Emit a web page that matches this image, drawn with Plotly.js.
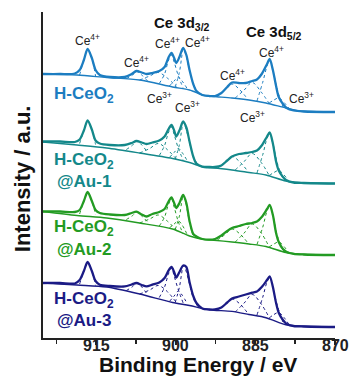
<!DOCTYPE html>
<html>
<head>
<meta charset="utf-8">
<script src="https://cdn.plot.ly/plotly-3.0.1.min.js"></script>
<style>html,body{margin:0;padding:0;background:#fff;}#chart{width:352px;height:389px;}</style>
</head>
<body>
<div id="chart"></div>
<script>
// ---- Data (binding energy in eV, intensity in arbitrary units) ----
const sampleNames = ['H-CeO<sub>2</sub>', 'H-CeO<sub>2</sub><br>@Au-1', 'H-CeO<sub>2</sub><br>@Au-2', 'H-CeO<sub>2</sub><br>@Au-3'];
const offsets = [226, 154.5, 83, 11];
const tickValues = [915, 900, 885, 870];

const envEnergy = [925, 921.8, 919.0, 918.1, 917.3, 916.6, 915.8, 915.1, 914.3, 912.4, 909.6, 908.3, 907.4, 906.4, 905.5, 904.4, 903.1, 902.1, 901.4, 900.8, 900.3, 899.9, 899.3, 898.6, 898.0, 897.4, 896.7, 896.1, 895.0, 893.7, 892.6, 891.4, 890.3, 889.4, 888.1, 886.8, 885.6, 884.7, 883.8, 882.8, 882.3, 881.7, 881.1, 880.6, 879.8, 879.1, 877.8, 875.9, 870.0];
const envBlue  = [38, 38, 38.5, 42, 52, 63, 54, 42, 37, 35, 35, 38, 41, 39.5, 38, 39, 41, 45, 54, 59, 54, 49, 55, 64, 57, 42, 28, 21, 17, 16, 16, 19, 25, 29.5, 29, 29, 31, 32.5, 38, 48, 53, 42, 26, 15, 8, 4, 1.5, 0.5, 0];
const envTeal  = [42, 42, 41.5, 44, 53, 63, 54, 43, 40, 38.5, 38.5, 40.5, 42.5, 41, 39.5, 41, 43, 47, 54, 58.5, 53, 47, 53, 62, 56, 42, 27, 20, 17, 16.5, 16.5, 18, 23, 27, 29.5, 30.5, 31.5, 33, 38, 47, 51, 40, 22, 13, 6.5, 3, 1, 0.5, 0];
const envGreen = [43.5, 43.5, 43, 45, 54, 63, 54, 45, 42, 40.5, 40, 42, 43.3, 40.5, 38.5, 41, 43, 46, 53, 57.5, 52, 47, 52, 60, 52, 34, 21, 18.5, 16, 15.3, 16, 19.5, 24, 27, 29, 31, 32, 33.5, 38, 46, 50, 40, 22, 13, 6, 3, 1.2, 0.5, 0];
const envNavy  = [44, 44, 43.5, 47, 56, 65, 56, 46, 42.3, 41, 40.6, 42.5, 44, 42, 40.6, 42.3, 44.5, 49, 56, 60, 55, 49.3, 55, 61.5, 60, 45, 31, 24, 18.5, 17.5, 17.5, 19.5, 24.5, 28.5, 30.5, 32.5, 34.3, 35.5, 40, 47, 50.6, 40, 24, 14.3, 7, 3, 1, 0.5, 0];

const bgEnergy = [925, 918.6, 913.0, 906.8, 900.6, 897.4, 894.6, 892.8, 889.4, 886.2, 883.0, 879.25, 876.8, 870];
const bgBlue  = [38, 37, 34.5, 32, 25, 22, 16.5, 15.5, 14, 12, 9, 4, 1.2, 0];
const bgTeal  = [41.5, 38.5, 35.5, 30.5, 25, 21, 16, 15.5, 13.5, 11, 8.5, 2.5, 1, 0];
const bgGreen = [43.5, 39.5, 37, 32, 26, 19, 15.5, 14.8, 13, 11, 8.5, 2.5, 1, 0];
const bgNavy  = [44, 42, 40, 33, 24.5, 21.5, 18, 16.8, 15.6, 12.5, 9.3, 2.3, 1, 0];

// fitted components: u''', u'', u'(Ce3+), u, u0(Ce3+), v''', v'', v'(Ce3+), v, v0(Ce3+)
const compEnergy = [
  [918.1, 917.3, 916.6, 915.8, 915.1],
  [909.3, 908.1, 907.4, 906.4, 905.3],
  [906.8, 904.9, 903.3, 901.6, 899.9],
  [903.1, 902.1, 901.4, 900.8, 900.3, 899.5, 898.6],
  [901.2, 900.3, 899.5, 898.8, 897.8],
  [900.1, 899.3, 898.9, 898.6, 898.2, 897.4, 896.7, 895.8],
  [892.2, 890.7, 889.4, 887.9, 886.4],
  [888.8, 887.1, 885.6, 883.9, 882.4],
  [884.7, 883.6, 882.8, 882.3, 881.7, 880.9, 879.8],
  [882.4, 881.5, 880.6, 879.6, 878.7]
];
const compBlue = [
  [37, 52, 63, 54, 36], [33.5, 37, 40.5, 37, 31], [32, 36, 39.5, 34, 25.5],
  [28.5, 38, 51, 57, 50, 36, 24], [26, 31, 35, 31, 23],
  [25, 40, 54, 63, 59, 42, 28, 19], [15.3, 22, 28, 22, 12.5], [14, 22, 29.5, 20, 8.5],
  [11, 30, 46, 52, 42, 23, 5], [9, 12, 14, 9.5, 4]
];
const compTeal = [
  [40, 53, 63, 54, 39], [34, 38.5, 42.5, 38.5, 31], [30.5, 35, 40, 34, 24.5],
  [28, 38, 50.5, 56.5, 49, 35, 23.5], [26, 31, 35, 31, 22.5],
  [24.5, 39, 53, 61, 57, 41, 27, 18.5], [15, 21.5, 27, 21.5, 12], [13.5, 22, 30, 21, 8],
  [10.5, 29, 45, 50, 40, 21, 4.5], [8, 11, 13, 8.5, 2.5]
];
const compGreen = [
  [41, 54, 63, 54, 40], [35.5, 39.5, 43, 39, 33], [32, 36, 40, 34, 25],
  [29, 38, 50, 56, 48, 33, 21], [27, 31, 34, 30, 20],
  [25.5, 39, 52, 59, 54, 33, 20, 17], [14.7, 20.5, 26, 21, 12], [13, 22, 31, 22, 8],
  [10.5, 28, 44, 49, 40, 20, 4.5], [8, 11, 13, 8.5, 2]
];
const compNavy = [
  [43, 56, 65, 56, 41.5], [36.5, 40.5, 44, 40, 32], [33, 37, 41.5, 35.5, 24.5],
  [29.5, 40, 52.5, 59, 51, 37, 24], [25.5, 31, 36, 32, 23],
  [24.5, 40, 53, 61, 58, 43, 29, 20], [17, 22, 28, 23, 13.5], [15, 24, 32.5, 23, 9.5],
  [12, 30, 45, 49.5, 40, 22, 5], [9, 12.5, 14.5, 9.5, 2.7]
];

// ---- Styling ----
const colors = ['#1c7dc1', '#14888a', '#239b23', '#1b1b85'];
const FONT = 'Liberation Sans, Arial, Helvetica, sans-serif';

const envs = [envBlue, envTeal, envGreen, envNavy];
const bgs = [bgBlue, bgTeal, bgGreen, bgNavy];
const comps = [compBlue, compTeal, compGreen, compNavy];

const traces = [];
for (let s = 0; s < 4; s++) {
  const off = offsets[s];
  const col = colors[s];
  comps[s].forEach((c, k) => {
    traces.push({
      x: compEnergy[k], y: c.map(v => v + off), type: 'scatter', mode: 'lines',
      line: {color: col, width: 1, dash: 'dot', shape: 'spline', smoothing: 1},
      hoverinfo: 'skip', showlegend: false
    });
  });
  traces.push({
    x: bgEnergy, y: bgs[s].map(v => v + off), type: 'scatter', mode: 'lines',
    line: {color: col, width: 1.4, shape: 'spline', smoothing: 0.8},
    hoverinfo: 'skip', showlegend: false
  });
  traces.push({
    x: envEnergy, y: envs[s].map(v => v + off), type: 'scatter', mode: 'lines',
    name: sampleNames[s].replace('<br>', ''),
    line: {color: col, width: 2.3, shape: 'spline', smoothing: 0.8},
    showlegend: false
  });
}

function ceLabel(txt, x, y) {
  return {text: txt, x: x, y: y, xref: 'x', yref: 'y', showarrow: false,
    font: {family: FONT, size: 12, color: '#222'}};
}
function sampleLabel(txt, x, y, col) {
  return {text: txt, x: x, y: y, xref: 'x', yref: 'y', showarrow: false, xanchor: 'center',
    font: {family: FONT, size: 17, color: col, weight: 'bold'}};
}

const annotations = [
  ceLabel('Ce<sup>4+</sup>', 916.6, 298),
  ceLabel('Ce<sup>4+</sup>', 907.4, 276),
  ceLabel('Ce<sup>4+</sup>', 901.6, 295),
  ceLabel('Ce<sup>4+</sup>', 895.9, 296),
  ceLabel('Ce<sup>4+</sup>', 881.9, 286),
  ceLabel('Ce<sup>4+</sup>', 889.4, 263),
  ceLabel('Ce<sup>3+</sup>', 876.4, 240),
  ceLabel('Ce<sup>3+</sup>', 903.1, 240),
  ceLabel('Ce<sup>3+</sup>', 897.8, 231),
  ceLabel('Ce<sup>3+</sup>', 885.6, 221),
  {text: 'Ce 3d<sub>3/2</sub>', x: 898.9, y: 315, xref: 'x', yref: 'y', showarrow: false,
    font: {family: FONT, size: 15, color: '#111', weight: 'bold'}},
  {text: 'Ce 3d<sub>5/2</sub>', x: 881.5, y: 306, xref: 'x', yref: 'y', showarrow: false,
    font: {family: FONT, size: 15, color: '#111', weight: 'bold'}},
  sampleLabel('H-CeO<sub>2</sub>', 917.3, 243, colors[0]),
  sampleLabel('H-CeO<sub>2</sub>', 917.3, 177, colors[1]),
  sampleLabel('@Au-1', 917.3, 157, colors[1]),
  sampleLabel('H-CeO<sub>2</sub>', 917.3, 110, colors[2]),
  sampleLabel('@Au-2', 917.3, 89, colors[2]),
  sampleLabel('H-CeO<sub>2</sub>', 917.3, 38, colors[3]),
  sampleLabel('@Au-3', 917.3, 18, colors[3]),
  {text: 'Binding Energy / eV', xref: 'paper', yref: 'paper', x: 0.531, y: -0.08,
    xanchor: 'center', yanchor: 'middle', showarrow: false,
    font: {family: FONT, size: 21, color: '#111', weight: 'bold'}},
  {text: 'Intensity / a.u.', xref: 'paper', yref: 'paper', x: -0.072, y: 0.49,
    xanchor: 'center', yanchor: 'middle', textangle: -90, showarrow: false,
    font: {family: FONT, size: 22, color: '#111', weight: 'bold'}}
];

// tick labels placed right under the axis line (as in the reference)
tickValues.forEach(v => {
  annotations.push({text: String(v), x: v, xref: 'x', yref: 'paper', y: 0.006,
    yanchor: 'top', showarrow: false, borderpad: 0,
    font: {family: FONT, size: 16, color: '#222', weight: 'bold'}});
});

const layout = {
  width: 352, height: 389,
  margin: {l: 43, r: 17, t: 12, b: 51, pad: 0},
  paper_bgcolor: '#fff', plot_bgcolor: '#fff',
  showlegend: false,
  xaxis: {
    range: [925, 870], showline: true, linecolor: '#222', linewidth: 2,
    ticks: 'outside', ticklen: 5, tickwidth: 2, tickcolor: '#222',
    tick0: 870, dtick: 15, showticklabels: false,
    minor: {tick0: 870, dtick: 7.5, ticks: 'outside', ticklen: 4, tickwidth: 1.5, tickcolor: '#222'},
    showgrid: false, zeroline: false
  },
  yaxis: {
    range: [0, 326], showline: true, linecolor: '#222', linewidth: 2,
    ticks: '', showticklabels: false, showgrid: false, zeroline: false
  },
  annotations: annotations
};

Plotly.newPlot('chart', traces, layout, {staticPlot: true, displayModeBar: false});
</script>
</body>
</html>
